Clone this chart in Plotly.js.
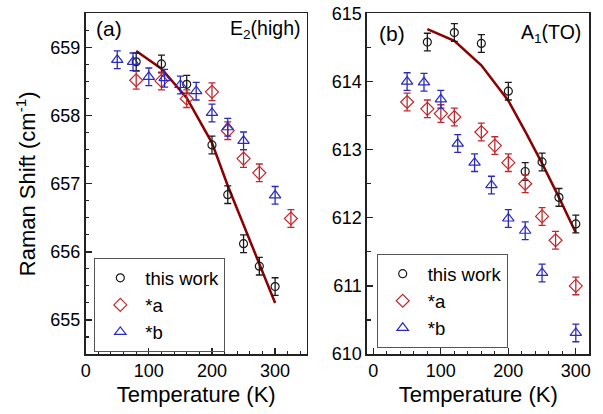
<!DOCTYPE html>
<html>
<head>
<meta charset="utf-8">
<script src="https://cdn.plot.ly/plotly-3.0.1.min.js"></script>
<style>html,body{margin:0;padding:0;background:#fff;}#chart{width:603px;height:414px;}</style>
</head>
<body>
<div id="chart"></div>
<script>
// ---- Panel (a): E2(high) ----
const tA_this = [80, 120, 160, 200, 225, 250, 275, 300];
const wA_this = [658.79, 658.76, 658.46, 657.57, 656.84, 656.12, 655.79, 655.49];
const tA_a = [80, 120, 160, 200, 225, 250, 275, 325];
const wA_a = [658.52, 658.51, 658.25, 658.35, 657.78, 657.37, 657.16, 656.49];
const tA_b = [50, 75, 100, 125, 150, 175, 200, 225, 250, 300];
const wA_b = [658.82, 658.79, 658.57, 658.55, 658.45, 658.36, 658.04, 657.83, 657.63, 656.83];
const tA_fit = [80, 120, 160, 200, 225, 250, 275, 300];
const wA_fit = [658.95, 658.69, 658.26, 657.60, 656.97, 656.40, 655.83, 655.25];

// ---- Panel (b): A1(TO) ----
const tB_this = [80, 120, 160, 200, 225, 250, 275, 300];
const wB_this = [614.58, 614.72, 614.56, 613.86, 612.68, 612.82, 612.30, 611.91];
const tB_a = [50, 80, 100, 120, 160, 180, 200, 225, 250, 270, 300];
const wB_a = [613.70, 613.60, 613.53, 613.48, 613.26, 613.06, 612.81, 612.50, 612.02, 611.67, 611.00];
const tB_b = [50, 75, 100, 125, 150, 175, 200, 225, 250, 300];
const wB_b = [614.00, 613.99, 613.74, 613.09, 612.81, 612.48, 611.99, 611.81, 611.19, 610.31];
const tB_fit = [80, 120, 160, 200, 225, 250, 275, 300];
const wB_fit = [614.77, 614.60, 614.24, 613.72, 613.27, 612.80, 612.30, 611.78];

const errVal = 0.13;
const seriesNames = ['this work', '*a', '*b'];

const cBlack = '#1a1a1a', cRed = '#c0282e', cBlue = '#2a2abf', cFit = '#8b0000';

function pts(x, y, name, color, symbol, xa, ya, leg, size) {
  return {
    type: 'scatter', mode: 'markers', x: x, y: y, name: name,
    xaxis: xa, yaxis: ya, legend: leg,
    marker: {symbol: symbol, size: size, color: color, line: {color: color, width: 1.2}},
    error_y: {type: 'constant', value: errVal, color: color, thickness: 1.3, width: 3.5}
  };
}
function fit(x, y, xa, ya) {
  return {type: 'scatter', mode: 'lines', x: x, y: y, xaxis: xa, yaxis: ya, showlegend: false,
    line: {color: cFit, width: 2.5}, hoverinfo: 'skip'};
}

const data = [
  fit(tA_fit, wA_fit, 'x', 'y'),
  pts(tA_this, wA_this, seriesNames[0], cBlack, 'circle-open', 'x', 'y', 'legend', 8),
  pts(tA_a, wA_a, seriesNames[1], cRed, 'diamond-open', 'x', 'y', 'legend', 10),
  pts(tA_b, wA_b, seriesNames[2], cBlue, 'triangle-up-open', 'x', 'y', 'legend', 10),
  fit(tB_fit, wB_fit, 'x2', 'y2'),
  pts(tB_this, wB_this, seriesNames[0], cBlack, 'circle-open', 'x2', 'y2', 'legend2', 8),
  pts(tB_a, wB_a, seriesNames[1], cRed, 'diamond-open', 'x2', 'y2', 'legend2', 10),
  pts(tB_b, wB_b, seriesNames[2], cBlue, 'triangle-up-open', 'x2', 'y2', 'legend2', 10)
];

const axBase = {
  showline: true, mirror: true, linecolor: '#222', linewidth: 1.8,
  showgrid: false, zeroline: false, ticks: 'inside', ticklen: 6, tickwidth: 1.3, tickcolor: '#222',
  tickfont: {size: 18, color: '#000'}
};
const minorX = {dtick: 20, ticks: 'inside', ticklen: 3.5, tickwidth: 1.1, tickcolor: '#222', showgrid: false};

const legBase = {
  bgcolor: 'rgba(255,255,255,0)', bordercolor: '#555', borderwidth: 1,
  font: {size: 18.5, color: '#000'}, xanchor: 'left', yanchor: 'top', itemwidth: 40
};

const layout = {
  width: 603, height: 414,
  margin: {l: 0, r: 0, t: 0, b: 0},
  paper_bgcolor: '#fff', plot_bgcolor: '#fff',
  font: {family: 'Liberation Sans, Arial, sans-serif', color: '#000'},
  showlegend: true,
  xaxis: Object.assign({}, axBase, {
    domain: [0.1421, 0.5086], anchor: 'y', range: [0, 350], tick0: 0, dtick: 100, minor: minorX,
    title: {text: 'Temperature (K)', font: {size: 22}, standoff: 6}
  }),
  yaxis: Object.assign({}, axBase, {
    domain: [0.1449, 0.9674], anchor: 'x', range: [654.5, 659.5], dtick: 1,
    minor: {dtick: 0.25, ticks: 'inside', ticklen: 3.5, tickwidth: 1.1, tickcolor: '#222', showgrid: false},
    title: {text: 'Raman Shift (cm<sup>-1</sup>)', font: {size: 22}, standoff: 8}
  }),
  xaxis2: Object.assign({}, axBase, {
    domain: [0.6091, 0.9773], anchor: 'y2', range: [-9, 320], tick0: 0, dtick: 100, minor: minorX,
    title: {text: 'Temperature (K)', font: {size: 22}, standoff: 6}
  }),
  yaxis2: Object.assign({}, axBase, {
    domain: [0.1449, 0.9674], anchor: 'x2', range: [610, 615], dtick: 1,
    minor: {dtick: 0.5, ticks: 'inside', ticklen: 3.5, tickwidth: 1.1, tickcolor: '#222', showgrid: false}
  }),
  legend: Object.assign({}, legBase, {x: 0.1564, y: 0.376}),
  legend2: Object.assign({}, legBase, {x: 0.6247, y: 0.386}),
  annotations: [
    {xref: 'paper', yref: 'paper', x: 94 / 603, y: 1 - 29 / 414, xanchor: 'left', yanchor: 'middle',
     text: '(a)', showarrow: false, font: {size: 21}},
    {xref: 'paper', yref: 'paper', x: 302 / 603, y: 1 - 30 / 414, xanchor: 'right', yanchor: 'middle',
     text: 'E<sub>2</sub>(high)', showarrow: false, font: {size: 19.5}},
    {xref: 'paper', yref: 'paper', x: 377 / 603, y: 1 - 33 / 414, xanchor: 'left', yanchor: 'middle',
     text: '(b)', showarrow: false, font: {size: 21}},
    {xref: 'paper', yref: 'paper', x: 583 / 603, y: 1 - 33 / 414, xanchor: 'right', yanchor: 'middle',
     text: 'A<sub>1</sub>(TO)', showarrow: false, font: {size: 19.5}}
  ]
};

Plotly.newPlot('chart', data, layout, {displayModeBar: false, staticPlot: true});
</script>
</body>
</html>
